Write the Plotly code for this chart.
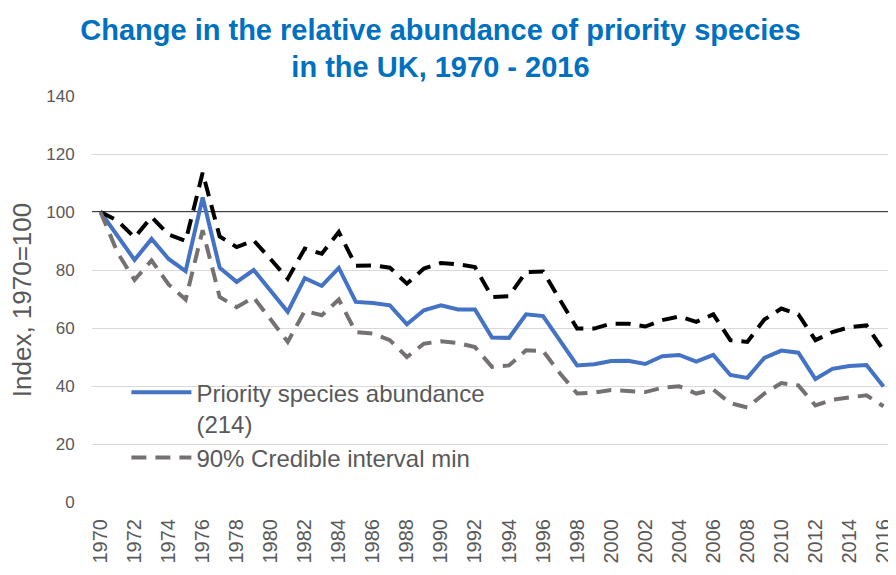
import plotly.graph_objects as go

years = list(range(1970, 2017))

# priority species index (214 species), 1970 = 100
abundance = [100, 91.8, 83.5, 90.7, 83.8, 79.6, 105.0, 80.8, 75.9, 80.0,
             73.0, 65.6, 77.2, 74.5, 80.7, 69.0, 68.6, 67.8, 61.3, 66.1,
             67.8, 66.4, 66.4, 56.7, 56.6, 64.7, 64.1, 55.8, 47.1, 47.5,
             48.6, 48.7, 47.6, 50.3, 50.7, 48.4, 50.7, 43.8, 42.8, 49.7,
             52.2, 51.5, 42.4, 45.9, 46.9, 47.2, 39.8]

ci_max = [100, 97.0, 91.2, 98.3, 92.2, 90.0, 113.5, 91.6, 87.9, 90.2,
          83.7, 77.0, 87.4, 85.6, 93.1, 81.5, 81.6, 80.8, 75.3, 80.5,
          82.4, 82.0, 81.0, 70.7, 71.0, 79.3, 79.5, 69.5, 59.8, 59.8,
          61.5, 61.5, 60.5, 62.7, 64.0, 62.1, 64.7, 55.8, 55.2, 62.9,
          66.7, 64.7, 55.8, 58.6, 60.3, 60.9, 52.3]

ci_min = [100, 86.0, 76.6, 83.3, 75.0, 69.8, 93.7, 70.7, 67.2, 70.5,
          62.9, 55.2, 65.9, 64.4, 69.8, 58.6, 58.1, 55.8, 50.0, 54.6,
          55.4, 54.8, 53.4, 46.6, 47.1, 52.3, 52.1, 44.3, 37.4, 37.7,
          38.6, 38.3, 37.9, 39.4, 39.9, 37.4, 38.8, 34.1, 32.6, 37.4,
          41.0, 40.2, 33.3, 35.3, 36.2, 36.8, 33.0]

font = "Liberation Sans, Arial, sans-serif"
grey_txt = "#595959"

fig = go.Figure()
fig.add_trace(go.Scatter(x=years, y=abundance, mode="lines",
                         name="Priority species abundance<br>(214)",
                         line=dict(color="#4472C4", width=4)))
fig.add_trace(go.Scatter(x=years, y=ci_max, mode="lines", showlegend=False,
                         name="90% Credible interval max",
                         line=dict(color="#000000", width=4, dash="15px,9px")))
fig.add_trace(go.Scatter(x=years, y=ci_min, mode="lines",
                         name="90% Credible interval min",
                         line=dict(color="#767171", width=4, dash="15px,9px")))

# baseline at 100
fig.add_shape(type="line", xref="paper", x0=0, x1=1, y0=100, y1=100,
              line=dict(color="black", width=1.3), layer="below")

# y axis title as a rotated annotation so it can sit close to the edge
fig.add_annotation(text="Index, 1970=100", textangle=-90, showarrow=False,
                   xref="paper", yref="paper", x=-0.0875, y=0.497,
                   xanchor="center", yanchor="middle",
                   font=dict(family=font, size=26, color=grey_txt))

# page body has an 8px margin, so the figure is 8px smaller than the window
fig.update_layout(
    width=888, height=567,
    margin=dict(l=84, r=4, t=88, b=73),
    paper_bgcolor="white", plot_bgcolor="white",
    font=dict(family=font, color=grey_txt),
    title=dict(text="Change in the relative abundance of priority species<br>in the UK, 1970 - 2016",
               font=dict(family=font, size=29, color="#0070C0", weight="bold"),
               x=0.487, xanchor="center", y=0.944, yanchor="top", yref="container"),
    showlegend=True,
    legend=dict(x=0.043, y=0.325, xanchor="left", yanchor="top",
                bgcolor="rgba(0,0,0,0)", font=dict(size=24, color=grey_txt),
                valign="top", itemwidth=60, tracegroupgap=0),
)
fig.update_xaxes(range=[1969.5, 2016.5], tickvals=years[::2], tickangle=-90,
                 showgrid=False, zeroline=False, showline=False, automargin=False,
                 ticks="outside", ticklen=8, tickcolor="white",
                 tickfont=dict(size=20, color=grey_txt))
fig.update_yaxes(range=[0, 140], dtick=20, showgrid=True, gridcolor="#D9D9D9",
                 gridwidth=1, zeroline=False, showline=False, automargin=False,
                 ticks="outside", ticklen=13, tickcolor="white",
                 tickfont=dict(size=17, color=grey_txt))

fig.write_html("out.html")
